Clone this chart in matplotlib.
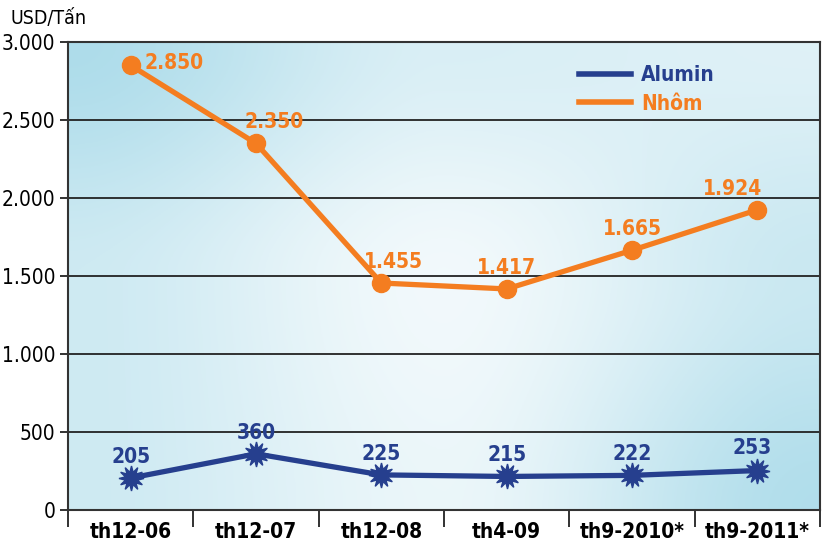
import numpy as np
import matplotlib
matplotlib.use("Agg")
import matplotlib.pyplot as plt
from matplotlib.ticker import FuncFormatter
from matplotlib.lines import Line2D

# data
categories = ["th12-06", "th12-07", "th12-08", "th4-09", "th9-2010*", "th9-2011*"]
alumin = [205, 360, 225, 215, 222, 253]
nhom = [2850, 2350, 1455, 1417, 1665, 1924]
yticks = [0, 500, 1000, 1500, 2000, 2500, 3000]

blue = "#263f8e"
orange = "#f47d20"
plt.rcParams["font.family"] = ["DejaVu Sans"]
plt.rcParams["font.stretch"] = "condensed"

fig = plt.figure(figsize=(8.24, 5.44), dpi=100)
ax = fig.add_axes([68 / 824, 1 - 510 / 544, (820 - 68) / 824, (510 - 42) / 544])

# gradient background: blue amount on a coarse 3x3 grid (top row first), smoothed
shade = np.array([[0.92, 0.35, 0.28],
                  [0.50, 0.03, 0.55],
                  [0.50, 0.12, 0.88]])
nx, ny = 300, 200
gx = np.linspace(0, 2, nx)
gy = np.linspace(0, 2, ny)
ix = np.minimum(gx.astype(int), 1)
iy = np.minimum(gy.astype(int), 1)
fx = gx - ix
fy = gy - iy
fx = fx * fx * (3 - 2 * fx)
fy = fy * fy * (3 - 2 * fy)
a = shade[iy[:, None], ix[None, :]]
b_ = shade[iy[:, None], ix[None, :] + 1]
c = shade[iy[:, None] + 1, ix[None, :]]
d = shade[iy[:, None] + 1, ix[None, :] + 1]
top = a * (1 - fx) + b_ * fx
bot = c * (1 - fx) + d * fx
amt = top * (1 - fy[:, None]) + bot * fy[:, None]
light = np.array([0xf4, 0xfa, 0xfc]) / 255
corner = np.array([0xa8, 0xda, 0xe9]) / 255
img = (1 - amt[..., None]) * light + amt[..., None] * corner
x = np.arange(len(categories))
ax.imshow(img, extent=[-0.5, len(categories) - 0.5, 0, 3000], aspect="auto",
          zorder=0, origin="upper")

for yv in yticks[1:-1]:
    ax.axhline(yv, color="#222222", lw=1.3, zorder=1)

ax.plot(x, nhom, color=orange, lw=3.8, marker="o", ms=13, zorder=3)
ax.plot(x, alumin, color=blue, lw=3.8, marker=(12, 1, 0), ms=18, zorder=3)

nhom_off = [(31, 2), (13, 8), (9, 8), (0, 8), (0, 8), (-18, 8)]
alu_off = [(0, 8), (0, 8), (0, 8), (0, 8), (0, 8), (-4, 9)]
fmt = lambda v: f"{v:,}".replace(",", ".")
for xi, v, off in zip(x, nhom, nhom_off):
    ax.annotate(fmt(v), (xi, v), xytext=off, textcoords="offset points",
                ha="center", va="bottom" if off[1] > 5 else "center",
                color=orange, fontsize=15, fontweight="bold")
for xi, v, off in zip(x, alumin, alu_off):
    ax.annotate(fmt(v), (xi, v), xytext=off, textcoords="offset points",
                ha="center", va="bottom", color=blue, fontsize=15, fontweight="bold")

ax.set_xlim(-0.5, len(categories) - 0.5)
ax.set_ylim(0, 3000)
ax.set_yticks(yticks)
ax.yaxis.set_major_formatter(FuncFormatter(lambda v, p: fmt(int(v))))
ax.tick_params(axis="y", direction="out", length=6, width=1.3, labelsize=15, pad=3,
               color="#222222")
ax.set_xticks(x)
ax.set_xticklabels(categories, fontsize=15, fontweight="bold")
ax.tick_params(axis="x", length=0, pad=9)
ax.set_xticks(np.arange(-0.5, len(categories) + 0.5, 1), minor=True)
ax.tick_params(axis="x", which="minor", direction="out", length=12, width=1.3,
               color="#222222")
for s in ax.spines.values():
    s.set_color("#333333")
    s.set_linewidth(1.5)

h = [Line2D([], [], color=blue, lw=4), Line2D([], [], color=orange, lw=4)]
leg = ax.legend(h, ["Alumin", "Nhôm"], loc="upper left", bbox_to_anchor=(0.655, 0.99),
                frameon=False, handlelength=2.5, handletextpad=0.45, labelspacing=0.4,
                prop={"size": 15, "weight": "bold", "stretch": "condensed"})
for txt, c in zip(leg.get_texts(), [blue, orange]):
    txt.set_color(c)

fig.text(10 / 824, 1 - 18 / 544, "USD/Tấn", fontsize=14, va="center", ha="left")

fig.savefig("out.png", dpi=100)
